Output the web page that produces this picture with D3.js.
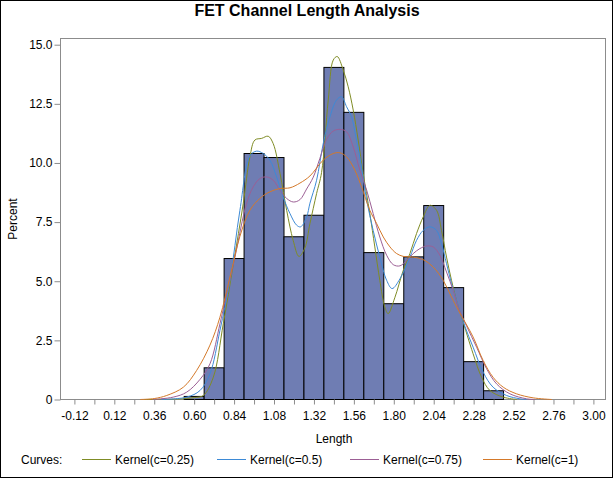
<!DOCTYPE html>
<html><head><meta charset="utf-8">
<script src="https://cdn.jsdelivr.net/npm/d3@7"></script>
<style>body{margin:0;background:#fff;} text{font-family:Arial,"Liberation Sans",sans-serif;}</style>
</head><body>
<svg id="chart" width="614" height="480"></svg>
<script>
const title = "FET Channel Length Analysis";
const binMidpoints = [0.60,0.72,0.84,0.96,1.08,1.20,1.32,1.44,1.56,1.68,1.80,1.92,2.04,2.16,2.28,2.40];
const binPercents  = [0.13,1.34,5.96,10.40,10.23,6.88,7.79,14.04,12.14,6.21,4.05,6.03,8.20,4.73,1.60,0.37];
const binWidth = 0.12;
const xTickValues = [-0.12,0.12,0.36,0.60,0.84,1.08,1.32,1.56,1.80,2.04,2.28,2.52,2.76,3.00];
const yTickValues = [0,2.5,5,7.5,10,12.5,15];
const yTickLabels = ["0","2.5","5.0","7.5","10.0","12.5","15.0"];
const curveNames = ["Kernel(c=0.25)","Kernel(c=0.5)","Kernel(c=0.75)","Kernel(c=1)"];
const kernel025 = [[0.30,0],[0.50,0.02],[0.60,0.08],[0.655,0.17],[0.715,0.94],[0.775,3.2],[0.835,5.7],[0.895,8.29],[0.935,10.26],[0.965,10.97],[1.006,11.04],[1.045,11.13],[1.075,10.82],[1.116,9.56],[1.156,8.0],[1.195,6.73],[1.23,6.05],[1.265,6.4],[1.296,7.44],[1.336,8.71],[1.366,9.6],[1.406,12.66],[1.436,14.35],[1.46,14.5],[1.496,13.93],[1.526,13.22],[1.556,12.24],[1.586,10.97],[1.616,9.56],[1.656,7.86],[1.686,6.45],[1.716,5.04],[1.746,3.91],[1.766,3.63],[1.806,4.3],[1.857,5.46],[1.897,6.17],[1.937,7.02],[1.977,7.72],[2.017,8.21],[2.057,8.0],[2.087,7.15],[2.117,6.02],[2.147,5.04],[2.177,4.19],[2.208,3.48],[2.277,1.93],[2.328,0.94],[2.378,0.38],[2.458,0.1],[2.54,0]];
const kernel05 = [[0.40,0],[0.555,0.1],[0.635,0.38],[0.695,1.09],[0.755,2.92],[0.815,5.04],[0.875,8.0],[0.935,10.3],[0.975,10.5],[1.015,10.4],[1.055,10.12],[1.096,9.41],[1.135,8.56],[1.176,7.86],[1.216,7.37],[1.24,7.3],[1.276,7.72],[1.296,8.3],[1.336,9.27],[1.376,10.83],[1.416,11.95],[1.456,12.66],[1.486,12.8],[1.516,12.38],[1.546,11.95],[1.576,10.97],[1.606,9.83],[1.637,8.43],[1.676,7.15],[1.716,6.02],[1.757,5.04],[1.79,4.69],[1.837,5.1],[1.897,6.02],[1.937,6.73],[1.977,7.15],[2.017,7.3],[2.057,7.15],[2.087,6.59],[2.117,5.74],[2.147,4.9],[2.177,4.2],[2.227,3.1],[2.277,2.21],[2.337,1.16],[2.397,0.52],[2.478,0.17],[2.558,0.03],[2.60,0]];
const kernel075 = [[0.35,0],[0.474,0.1],[0.555,0.31],[0.635,0.85],[0.695,1.51],[0.755,3.2],[0.795,4.47],[0.845,6.02],[0.915,8.29],[0.955,8.99],[0.995,9.34],[1.036,9.41],[1.075,9.27],[1.116,8.85],[1.156,8.5],[1.196,8.35],[1.236,8.45],[1.276,8.9],[1.316,9.4],[1.356,10.2],[1.396,11.0],[1.436,11.35],[1.476,11.42],[1.516,11.32],[1.556,10.68],[1.596,9.7],[1.637,8.85],[1.676,7.86],[1.716,6.87],[1.757,6.1],[1.797,5.7],[1.837,5.65],[1.877,5.88],[1.917,6.17],[1.957,6.38],[1.997,6.49],[2.037,6.45],[2.077,6.10],[2.117,5.39],[2.157,4.61],[2.187,3.91],[2.238,3.1],[2.298,2.21],[2.358,1.3],[2.418,0.66],[2.498,0.24],[2.598,0.03],[2.65,0]];
const kernel1 = [[0.275,0],[0.36,0.04],[0.435,0.17],[0.535,0.52],[0.615,1.23],[0.695,2.3],[0.755,3.48],[0.815,5.18],[0.875,6.9],[0.935,8.0],[0.995,8.5],[1.055,8.78],[1.116,8.92],[1.176,8.95],[1.236,9.15],[1.296,9.45],[1.376,10.12],[1.436,10.4],[1.476,10.43],[1.516,10.26],[1.566,9.7],[1.606,8.99],[1.656,8.0],[1.697,7.44],[1.737,6.87],[1.777,6.45],[1.817,6.17],[1.857,6.05],[1.917,6.02],[1.977,5.91],[2.037,5.6],[2.097,5.04],[2.147,4.33],[2.19,3.75],[2.277,2.64],[2.337,1.65],[2.397,0.94],[2.458,0.52],[2.538,0.24],[2.638,0.07],[2.75,0]];
const curveColors = ["#7f8c25","#3d8ad6","#9c5f95","#d4792a"];

const svg = d3.select("#chart");
const x = d3.scaleLinear().domain([-0.12, 3.00]).range([74.4, 593.4]);
const y = d3.scaleLinear().domain([0, 15]).range([399.5, 44.7]);
const fL = 60.5, fR = 605.5, fT = 38.5, fB = 399.5;

svg.append("rect").attr("x",0.5).attr("y",0.5).attr("width",612).attr("height",477)
  .attr("fill","#fff").attr("stroke","#000");

svg.append("text").attr("x",307).attr("y",16).attr("text-anchor","middle")
  .attr("font-size",16).attr("font-weight","bold").text(title);

// frame
svg.append("rect").attr("x",fL).attr("y",fT).attr("width",fR-fL).attr("height",fB-fT)
  .attr("fill","none").attr("stroke","#8c8c8c");

// bars
svg.append("g").selectAll("rect").data(binMidpoints).join("rect")
  .attr("x", d => x(d - binWidth/2))
  .attr("width", d => x(d + binWidth/2) - x(d - binWidth/2))
  .attr("y", (d,i) => y(binPercents[i]))
  .attr("height", (d,i) => y(0) - y(binPercents[i]))
  .attr("fill","#6f7db3").attr("stroke","#000").attr("stroke-width",1);

// curves
const line = d3.line().x(d => x(d[0])).y(d => y(d[1])).curve(d3.curveCatmullRom.alpha(0.5));
[kernel025, kernel05, kernel075, kernel1].forEach((c,i) => {
  svg.append("path").attr("d", line(c)).attr("fill","none")
    .attr("stroke", curveColors[i]).attr("stroke-width",1);
});

// x axis
const minorTicks = d3.range(-0.12, 3.0001, 0.12);
const xAxis = d3.axisBottom(x).tickValues(minorTicks).tickSize(5)
  .tickFormat(d => { const m = xTickValues.find(v => Math.abs(v-d)<1e-6); return m===undefined ? "" : m.toFixed(2); });
const gx = svg.append("g").attr("transform",`translate(0,${fB})`).call(xAxis);
gx.select(".domain").remove();
gx.selectAll(".tick line").attr("stroke","#8c8c8c");
gx.selectAll(".tick text").attr("font-size",12).attr("font-family","Arial, 'Liberation Sans', sans-serif")
  .attr("fill","#000").attr("dy","0.71em").attr("y",12);

// y axis
const yAxis = d3.axisLeft(y).tickValues(yTickValues).tickSize(6)
  .tickFormat((d,i) => yTickLabels[i]);
const gy = svg.append("g").attr("transform",`translate(${fL},0)`).call(yAxis);
gy.select(".domain").remove();
gy.selectAll(".tick line").attr("stroke","#8c8c8c");
gy.selectAll(".tick text").attr("font-size",12).attr("font-family","Arial, 'Liberation Sans', sans-serif")
  .attr("fill","#000").attr("x",-8);

svg.append("text").attr("x",(fL+fR)/2 + 1).attr("y",443).attr("text-anchor","middle")
  .attr("font-size",12).text("Length");
svg.append("text").attr("transform",`translate(17,${(fT+fB)/2}) rotate(-90)`)
  .attr("text-anchor","middle").attr("font-size",12).text("Percent");

// legend
const leg = svg.append("g");
leg.append("text").attr("x",21).attr("y",464).attr("font-size",12).text("Curves:");
const legX = [82, 217, 350, 483];
curveNames.forEach((n,i) => {
  leg.append("line").attr("x1",legX[i]).attr("x2",legX[i]+29).attr("y1",459.5).attr("y2",459.5)
    .attr("stroke",curveColors[i]).attr("stroke-width",1);
  leg.append("text").attr("x",legX[i]+33).attr("y",464).attr("font-size",12).text(n);
});
</script>
</body></html>
